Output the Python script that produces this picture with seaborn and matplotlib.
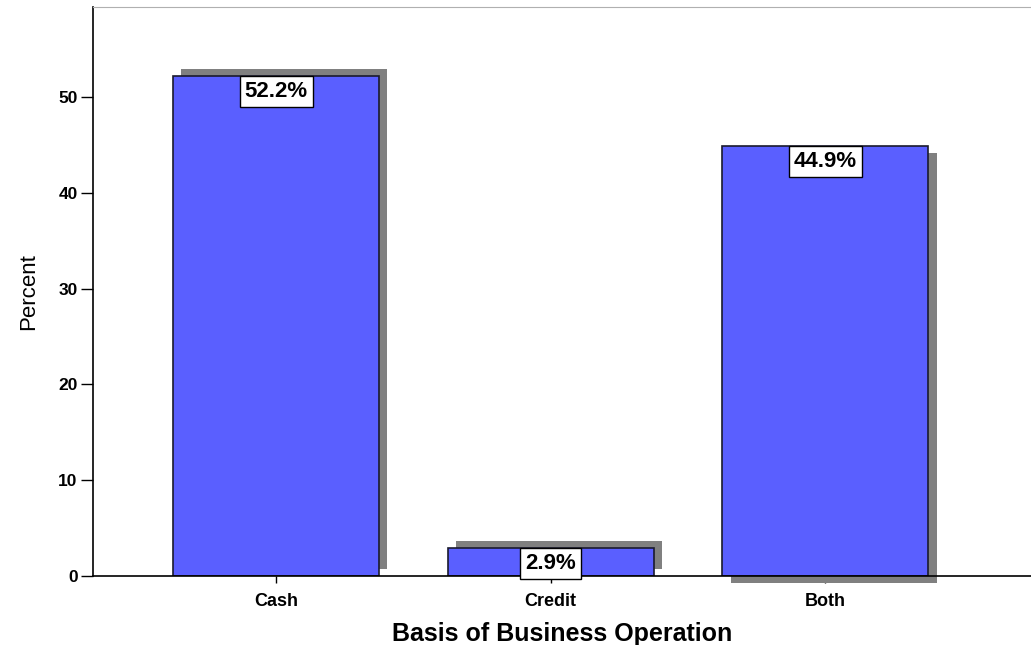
import matplotlib
matplotlib.use("Agg")
import matplotlib.pyplot as plt
import seaborn as sns
import pandas as pd

# Data
categories = ["Cash", "Credit", "Both"]
percents = [52.2, 2.9, 44.9]
labels = ["52.2%", "2.9%", "44.9%"]
# SPSS-style drop shadow direction for each bar (dx in category units, dy in percent)
shadow_dx = [0.03, 0.03, 0.032]
shadow_dy = [0.75, 0.75, -0.75]

sns.set_style("white")
plt.rcParams['font.family'] = ['Liberation Sans', 'DejaVu Sans']
plt.rcParams['text.color'] = 'black'
plt.rcParams['axes.labelcolor'] = 'black'
plt.rcParams['xtick.color'] = 'black'
plt.rcParams['ytick.color'] = 'black'

df = pd.DataFrame({"basis": categories, "percent": percents})

fig = plt.figure(figsize=(10.31, 6.45), dpi=100)
ax = fig.add_axes([0.0902, 0.107, 0.9098, 0.882])

# shadow bars
for i, (v, dx, dy) in enumerate(zip(percents, shadow_dx, shadow_dy)):
    ax.bar(i + dx, v, bottom=dy, width=0.75, color="#808080", zorder=1,
           linewidth=0, clip_on=False)

sns.barplot(data=df, x="basis", y="percent", order=categories, color="#5a5fff",
            saturation=1, width=0.75, edgecolor="#1a1a2e", linewidth=1.2, ax=ax, zorder=2)

for i, (v, lab) in enumerate(zip(percents, labels)):
    ax.annotate(lab, xy=(i, v), xytext=(0, -3.5), textcoords="offset points",
                ha="center", va="top", fontsize=16, fontweight="bold", zorder=5,
                bbox=dict(boxstyle="square,pad=0.22", fc="white", ec="black", lw=1))

ax.set_xlim(-0.667, 2.75)
ax.set_ylim(0, 59.4)
ax.set_yticks([0, 10, 20, 30, 40, 50])
ax.tick_params(axis="y", direction="out", length=9, width=1, labelsize=12.5,
               left=True, pad=2)
ax.tick_params(axis="x", direction="out", length=5, width=1, labelsize=13,
               bottom=True, pad=7)
for t in ax.get_xticklabels() + ax.get_yticklabels():
    t.set_fontweight("bold")

ax.set_ylabel("Percent", fontsize=16, labelpad=14)
ax.set_xlabel("Basis of Business Operation", fontsize=18, fontweight="bold", labelpad=9)

for s in ["left", "bottom"]:
    ax.spines[s].set_color("black")
    ax.spines[s].set_linewidth(1.2)
ax.spines["top"].set_color("#b0b0b0")
ax.spines["right"].set_visible(False)

fig.savefig("out.png", dpi=100)
